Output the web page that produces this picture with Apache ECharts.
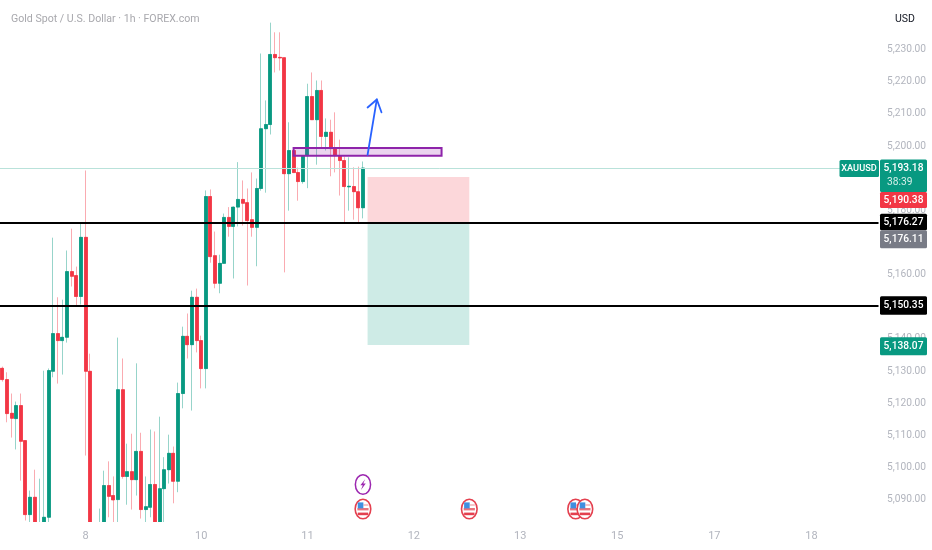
<!DOCTYPE html>
<html><head><meta charset="utf-8">
<style>html,body{margin:0;padding:0;background:#fff}#c{width:932px;height:550px}</style>
<script src="https://cdn.jsdelivr.net/npm/echarts@6/dist/echarts.min.js"></script>
</head><body><div id="c"></div>
<script>
const titleText = 'Gold Spot / U.S. Dollar · 1h · FOREX.com';
const currencyText = 'USD';
const symbolText = 'XAUUSD';
const countdownText = '38:39';
const yTicks = [5090,5100,5110,5120,5130,5140,5150,5160,5170,5180,5190,5200,5210,5220,5230];
const dayLabelIndex = [18,43,66,89,112,133,154,175];
const dayLabelText = ['8','10','11','12','13','15','17','18'];
const barCount = 190;
const opens = [5130.85,5127.34,5116.85,5115.2,5119.25,5108.36,5085.33,5090.72,5077.2,5080.4,5084.5,5129.92,5141.65,5139.47,5140.5,5160.94,5159.7,5153.2,5171.6,5129.92,
5080,5078,5080.4,5094.36,5091.25,5090,5124.2,5097.2,5098.7,5096.2,5105,5086.9,5087.6,5094.7,5080.4,5093.4,5099.3,5104.4,5095.7,5123,
5140.8,5138.2,5152.95,5139.47,5130.76,5184.3,5165.9,5157.3,5163.5,5177.8,5175,5181,5183.4,5182.4,5177.1,5174.7,5186.8,5205.4,5206.7,5228.5,
5227.6,5227.5,5191.4,5198.6,5191.75,5188.95,5197,5215.4,5208.2,5217.3,5203,5204.3,5199.5,5197,5195.5,5187.3,5187.4,5185.8,5180.8];
const closes = [5127.34,5116.76,5115.3,5119.25,5108.14,5085.33,5090.72,5080.4,5081,5084.5,5130.14,5141.65,5139.47,5140.5,5160.94,5159.48,5153.2,5171.6,5129.92,5080.4,
5075,5081.5,5094.36,5091,5089.9,5124.2,5097.2,5098.7,5096.2,5105,5086.9,5087.8,5094.7,5080.4,5093.4,5099.3,5104.4,5095.7,5123,5140.8,
5138.2,5152.95,5139.47,5130.76,5184.3,5165.6,5157.3,5163.5,5177.8,5175,5181,5183.4,5182.2,5176.8,5174.7,5186.8,5205.4,5206.7,5228.5,5227.5,
5227.4,5191.4,5198.6,5191.75,5188.95,5197,5215.4,5208.2,5217.3,5203,5204.3,5199.2,5197,5195.5,5187.4,5187.5,5185.8,5180.8,5193.18];
const lows = [5126.7,5114.05,5109.3,5105.6,5095.9,5083.5,5082.5,5079.7,5075.7,5078.8,5082.8,5128.05,5126.1,5128.9,5138.85,5156.3,5150.05,5150.7,5103.7,5077.2,
5074,5076,5078,5084.5,5082.8,5082.8,5096.5,5088.4,5086.9,5091.25,5084.1,5082.8,5084.5,5078.8,5078.8,5082.8,5095,5088.85,5092.3,5118.4,
5133.9,5117.7,5135.8,5124.6,5124.6,5163.7,5155.75,5154.2,5163.4,5171.8,5158.8,5175,5175.25,5156.6,5171.8,5162.6,5186.1,5185.5,5203.6,5222.9,
5223.5,5160.7,5179.9,5191.6,5183,5188.3,5186.9,5208.1,5194.2,5199.2,5198.6,5190.6,5191.8,5184.6,5176.2,5179.9,5177.1,5175.9,5177.5];
const highs = [5131.38,5129.61,5123,5120.5,5123,5108.4,5092.8,5099.3,5096.5,5130.1,5130.8,5171.5,5152.95,5152.2,5167.5,5174.3,5162.5,5176,5192.4,5135.4,
5081.5,5087.2,5099,5101.9,5097.2,5140.4,5133.9,5107.4,5110.5,5132.4,5110.8,5097.2,5111.8,5111.2,5115.8,5103.2,5110.2,5106.5,5126.4,5143.8,
5147.9,5155,5155.65,5141,5186.2,5186.5,5173.4,5166.2,5179,5181,5181.2,5195,5189.3,5186.8,5191.8,5189.9,5228.8,5214.2,5238.4,5235.4,
5235.4,5227.6,5207.4,5198.9,5193.3,5197.1,5219.4,5222.9,5220.4,5220.4,5208.6,5208.2,5210.5,5202,5196.7,5196.5,5193.4,5193.6,5195.2];
const lastPrice = 5193.18;
const levelPrices = [5176.27,5150.35];
const tagPrices = [5193.18,5190.38,5176.27,5176.11,5150.35,5138.07];
const zoneStart = 63, zoneEnd = 95, zoneLow = 5197.0, zoneHigh = 5199.4;
const tradeStart = 79, tradeEnd = 101, tradeStop = 5190.38, tradeEntry = 5176.11, tradeTarget = 5138.07;
const arrowShaftIndex = [79,81];
const arrowShaftPrice = [5197.3,5214.5];
const arrowHeadIndex = [79,81,82];
const arrowHeadPrice = [5212,5214.5,5210.5];
const eventFlagIndex = [78,101,124,126];
const eventBoltIndex = [78];

const UP='#089981', DOWN='#f23645', GREY='#b2b5be', FONT='Roboto';
const categories = Array.from({length:barCount},(_,i)=>{const k=dayLabelIndex.indexOf(i);return k>=0?dayLabelText[k]:'';});
const full = opens.map((o,i)=>[o,closes[i],lows[i],highs[i]]);
const bodies = opens.map((o,i)=>[o,closes[i],Math.min(o,closes[i]),Math.max(o,closes[i])]);
const fmt = v=>v.toLocaleString('en-US',{minimumFractionDigits:2,maximumFractionDigits:2});

const chart = echarts.init(document.getElementById('c'),null,{renderer:'canvas'});
const tagLook = [
 {bg:UP,top:-8.5,h:32.5},{bg:DOWN,top:15,h:16},{bg:'#000',top:-8.5,h:16.5},
 {bg:'#787b86',top:7.3,h:18},{bg:'#000',top:-9.3,h:18.3},{bg:UP,top:-7.8,h:18}];
function tagItem(params,api){
  const i=params.dataIndex, look=tagLook[i], y=api.coord([0,api.value(1)])[1], x=880, w=47;
  const kids=[
   {type:'rect',shape:{x,y:y+look.top,width:w,height:look.h,r:1.5},style:{fill:look.bg}},
   {type:'text',style:{x:x+w/2,y:y+look.top+(i===0?8.5:look.h/2),text:fmt(api.value(1)),fill:'#fff',font:'500 10.2px '+FONT,align:'center',verticalAlign:'middle'}}];
  if(i===0){
   kids.push({type:'text',style:{x:x+7,y:y+look.top+23,text:countdownText,fill:'#d5efe9',font:'10.2px '+FONT,align:'left',verticalAlign:'middle'}});
   kids.push({type:'rect',shape:{x:839.5,y:y-8,width:39.5,height:17,r:1.5},style:{fill:UP}});
   kids.push({type:'text',style:{x:859,y:y+0.5,text:symbolText,fill:'#fff',font:'500 9.2px '+FONT,align:'center',verticalAlign:'middle'}});
  }
  return {type:'group',children:kids};
}
function rectBetween(api,a,b,lo,hi,style){
  const p=api.coord([a,hi]),q=api.coord([b,lo]);
  return {type:'rect',shape:{x:p[0],y:p[1],width:q[0]-p[0],height:q[1]-p[1]},style};
}
function line(api,idx,pr){
  return {type:'polyline',shape:{points:idx.map((x,i)=>api.coord([x,pr[i]]))},style:{fill:'none',stroke:'#2962ff',lineWidth:1.8,lineCap:'round',lineJoin:'round'}};
}
function flagItem(params,api){
  const x=api.coord([api.value(0),0])[0], y=509;
  return {type:'group',children:[
   {type:'ellipse',shape:{cx:x,cy:y,rx:7.8,ry:9.8},style:{fill:'#fff',stroke:'#e4404f',lineWidth:1.6}},
   {type:'rect',shape:{x:x+0.5,y:y-5,width:5,height:2},style:{fill:'#f6c4c8'}},
   {type:'rect',shape:{x:x-5.6,y:y-1,width:11.2,height:2.4},style:{fill:'#e9737d'}},
   {type:'rect',shape:{x:x-5.2,y:y+3.6,width:10.4,height:2.6},style:{fill:'#e4404f'}},
   {type:'rect',shape:{x:x-5.2,y:y-6.6,width:5.6,height:6},style:{fill:'#3f8fe0'}}
  ]};
}
function boltItem(params,api){
  const x=api.coord([api.value(0),0])[0], y=484.5;
  return {type:'group',children:[
   {type:'ellipse',shape:{cx:x,cy:y,rx:7.6,ry:9.8},style:{fill:'#fff',stroke:'#9c27b0',lineWidth:1.5}},
   {type:'polygon',shape:{points:[[x+2.2,y-5.2],[x-2.6,y+0.8],[x-0.2,y+0.8],[x-2,y+5.4],[x+2.8,y-1],[x+0.3,y-1]]},style:{fill:'#9c27b0'}}
  ]};
}
chart.setOption({
 animation:false,
 backgroundColor:'#ffffff',
 title:[
  {text:titleText,left:6,top:8.5,textStyle:{fontFamily:FONT,fontSize:10.6,fontWeight:400,color:'#a8a8ad'}},
  {text:currencyText,left:890,top:9,textStyle:{fontFamily:FONT,fontSize:10.5,fontWeight:400,color:'#131722'}}
 ],
 grid:{left:-3.1,top:0.6,width:881.6,height:522,containLabel:false},
 tooltip:{show:false},
 xAxis:{type:'category',data:categories,boundaryGap:true,z:10,
  axisLine:{show:false},axisTick:{show:false},splitLine:{show:false},
  axisLabel:{interval:(i,v)=>v!=='',margin:8,color:GREY,fontFamily:FONT,fontSize:11,hideOverlap:false}},
 yAxis:{type:'value',position:'right',min:5082.84,max:5245.26,scale:true,
  axisLine:{show:false},axisTick:{show:false},splitLine:{show:false},
  axisLabel:{customValues:yTicks,formatter:fmt,margin:8.5,color:GREY,fontFamily:FONT,fontSize:10.2}},
 series:[
  {type:'candlestick',name:'wicks',data:full,barWidth:3.5,z:2,
   itemStyle:{color:UP,color0:DOWN,borderColor:'rgba(8,153,129,.42)',borderColor0:'rgba(242,54,69,.42)',borderWidth:1},
   markLine:{silent:true,symbol:'none',animation:false,label:{show:false},z:4,
    data:[
     {yAxis:lastPrice,lineStyle:{color:'#b9e2da',width:1,type:'solid'}},
     {yAxis:levelPrices[0],lineStyle:{color:'#000',width:2,type:'solid'}},
     {yAxis:levelPrices[1],lineStyle:{color:'#000',width:2,type:'solid'}}
    ]}},
  {type:'candlestick',name:'bodies',data:bodies,barWidth:3.5,z:3,
   itemStyle:{color:UP,color0:DOWN,borderColor:UP,borderColor0:DOWN,borderWidth:0.5}},
  // white strip that cuts the candles off at the bottom edge of the plot, as in the reference
  {type:'custom',name:'plotEdge',z:4,clip:false,silent:true,data:[[0,0]],encode:{x:0,y:1},
   renderItem:(p,api)=>({type:'rect',shape:{x:0,y:522,width:api.getWidth(),height:28},style:{fill:'#fff'}})},
  {type:'custom',name:'trade',z:1,clip:false,silent:true,data:[[tradeStart,tradeEnd,tradeStop,tradeEntry,tradeTarget]],
   encode:{x:0,y:2},
   renderItem:(p,api)=>({type:'group',children:[
     rectBetween(api,api.value(0),api.value(1),api.value(3),api.value(2),{fill:'rgba(242,54,69,.2)'}),
     rectBetween(api,api.value(0),api.value(1),api.value(4),api.value(3),{fill:'rgba(8,153,129,.2)'})]})},
  {type:'custom',name:'zone',z:5,clip:false,silent:true,data:[[zoneStart,zoneEnd,zoneLow,zoneHigh]],
   encode:{x:0,y:2},
   renderItem:(p,api)=>rectBetween(api,api.value(0),api.value(1),api.value(2),api.value(3),{fill:'rgba(156,39,176,.2)',stroke:'#8e24aa',lineWidth:2})},
  {type:'custom',name:'arrow',z:6,clip:false,silent:true,data:[[arrowShaftIndex[0],arrowShaftPrice[0]]],
   encode:{x:0,y:1},
   renderItem:(p,api)=>({type:'group',children:[line(api,arrowShaftIndex,arrowShaftPrice),line(api,arrowHeadIndex,arrowHeadPrice)]})},
  {type:'custom',name:'flags',z:6,clip:false,silent:true,data:eventFlagIndex.map(i=>[i,5090]),encode:{x:0,y:1},renderItem:flagItem},
  {type:'custom',name:'bolt',z:6,clip:false,silent:true,data:eventBoltIndex.map(i=>[i,5095]),encode:{x:0,y:1},renderItem:boltItem},
  {type:'custom',name:'tags',z:20,clip:false,silent:true,data:tagPrices.map((v,i)=>[i,v]),encode:{x:0,y:1},renderItem:tagItem}
 ]
});
</script></body></html>
